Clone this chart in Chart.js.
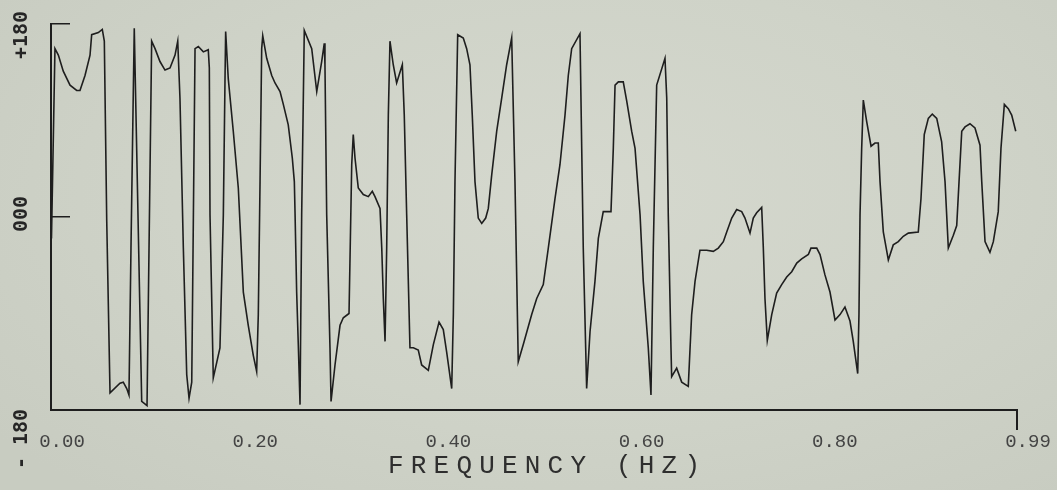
<!DOCTYPE html>
<html>
<head>
<meta charset="utf-8">
<title>Phase spectrum</title>
<script src="https://cdn.jsdelivr.net/npm/chart.js@4.4.1/dist/chart.umd.min.js"></script>
<style>
  html, body { margin: 0; padding: 0; }
  body {
    width: 1057px; height: 490px; overflow: hidden;
    background: radial-gradient(ellipse 70% 80% at 55% 40%, #d5d8ce 0%, #cfd3c8 55%, #c8ccc1 100%);
  }
  canvas { display: block; }
</style>
</head>
<body>
<canvas id="phase" width="1057" height="490"></canvas>
<script>
// Frequency (Hz) of each plotted sample
const freqHz = [
  0.0005, 0.0041, 0.0076, 0.0127, 0.0197, 0.0266, 0.0300, 0.0352, 0.0404, 0.0421,
  0.0490, 0.0531, 0.0552, 0.0577, 0.0611, 0.0714, 0.0748, 0.0784, 0.0807, 0.0828,
  0.0852, 0.0862, 0.0939, 0.0994, 0.1042, 0.1077, 0.1128, 0.1180, 0.1232, 0.1284,
  0.1312, 0.1335, 0.1370, 0.1405, 0.1429, 0.1457, 0.1491, 0.1525, 0.1577, 0.1628,
  0.1639, 0.1646, 0.1680, 0.1749, 0.1784, 0.1801, 0.1808, 0.1835, 0.1887, 0.1939,
  0.1991, 0.2042, 0.2094, 0.2129, 0.2146, 0.2164, 0.2181, 0.2192, 0.2233, 0.2285,
  0.2319, 0.2371, 0.2405, 0.2456, 0.2498, 0.2519, 0.2526, 0.2543, 0.2560, 0.2578,
  0.2595, 0.2622, 0.2699, 0.2751, 0.2802, 0.2829, 0.2836, 0.2854, 0.2888, 0.2899,
  0.2940, 0.2992, 0.3026, 0.3085, 0.3113, 0.3129, 0.3147, 0.3181, 0.3233, 0.3285,
  0.3326, 0.3354, 0.3406, 0.3424, 0.3440, 0.3458, 0.3475, 0.3492, 0.3509, 0.3543,
  0.3578, 0.3637, 0.3657, 0.3682, 0.3716, 0.3751, 0.3802, 0.3837, 0.3906, 0.3958,
  0.4017, 0.4061, 0.4096, 0.4148, 0.4165, 0.4182, 0.4210, 0.4268, 0.4303, 0.4337,
  0.4361, 0.4389, 0.4423, 0.4459, 0.4500, 0.4527, 0.4562, 0.4614, 0.4666, 0.4717,
  0.4769, 0.4803, 0.4837, 0.4889, 0.4976, 0.5028, 0.5096, 0.5148, 0.5217, 0.5269,
  0.5321, 0.5355, 0.5390, 0.5476, 0.5494, 0.5510, 0.5535, 0.5545, 0.5580, 0.5631,
  0.5666, 0.5717, 0.5797, 0.5821, 0.5839, 0.5873, 0.5924, 0.5960, 0.6011, 0.6046,
  0.6098, 0.6131, 0.6183, 0.6211, 0.6235, 0.6270, 0.6356, 0.6374, 0.6390, 0.6418,
  0.6425, 0.6477, 0.6529, 0.6597, 0.6632, 0.6667, 0.6718, 0.6788, 0.6856, 0.6908,
  0.6960, 0.6995, 0.7047, 0.7098, 0.7150, 0.7184, 0.7236, 0.7270, 0.7305, 0.7357,
  0.7374, 0.7391, 0.7415, 0.7461, 0.7512, 0.7564, 0.7616, 0.7668, 0.7720, 0.7771,
  0.7840, 0.7867, 0.7927, 0.7961, 0.8012, 0.8064, 0.8116, 0.8168, 0.8219, 0.8271,
  0.8305, 0.8351, 0.8364, 0.8375, 0.8392, 0.8409, 0.8444, 0.8489, 0.8530, 0.8564,
  0.8582, 0.8616, 0.8668, 0.8719, 0.8771, 0.8823, 0.8875, 0.8978, 0.9006, 0.9040,
  0.9082, 0.9123, 0.9169, 0.9220, 0.9255, 0.9289, 0.9341, 0.9376, 0.9400, 0.9428,
  0.9462, 0.9513, 0.9565, 0.9617, 0.9635, 0.9669, 0.9720, 0.9755, 0.9806, 0.9834,
  0.9869, 0.9910, 0.9945, 0.9987
];

// Phase angle (degrees) at each frequency, wrapped to -180..+180
const phaseDeg = [
   -20,  157,  151,  136,  123,  118,  118,  132,  151,  170,
   172,  175,  164,   -4, -164, -155, -154, -160, -166,  -29,
   117,  176, -172, -176,  164,  157,  145,  137,  139,  151,
   164,  111,  -29, -147, -169, -154,  157,  159,  154,  156,
   139,    2, -150, -122,    2,  126,  173,  129,   80,   27,
   -70, -101, -129, -144,  -91,   33,  157,  169,  148,  132,
   125,  117,  105,   86,   55,   33,    5,  -70, -119, -175,
     2,  174,  157,  117,  145,  162,  142,    2, -122, -172,
  -138, -101,  -94,  -90,   49,   77,   55,   27,   21,   19,
    24,   19,    8,  -29,  -76, -116,  -29,   95,  164,  142,
   125,  142,   95,    2, -122, -122, -124, -138, -143, -119,
   -98, -105, -126, -160,  -91,   33,  170,  167,  157,  142,
    95,   33,   -1,   -6,   -1,    8,   39,   80,  111,  142,
   167,   33, -135, -119,  -91,  -76,  -63,  -29,   17,   49,
    95,  132,  157,  171,   64,  -29, -122, -160, -107,  -60,
   -20,    5,    5,   64,  123,  126,  126,  108,   80,   64,
     2,  -60, -122, -166,  -29,  123,  148,  111,    2, -122,
  -149, -141, -154, -158,  -91,  -60,  -31,  -31,  -32,  -29,
   -23,  -14,   -1,    7,    5,   -1,  -15,   -1,    4,    9,
   -29,  -76, -115,  -91,  -71,  -63,  -56,  -51,  -43,  -39,
   -35,  -29,  -29,  -35,  -54,  -70,  -96,  -91,  -84,  -97,
  -116, -146,  -91,    2,   64,  109,   89,   66,   69,   69,
    33,  -14,  -40,  -26,  -23,  -18,  -15,  -14,   17,   77,
    92,   96,   92,   70,   33,  -29,  -17,   -8,   33,   80,
    84,   87,   83,   67,   33,  -23,  -33,  -23,    5,   64,
   105,  101,   95,   80
];

// Axis ticks and labels
const xTickValues = [0, 0.2, 0.4, 0.6, 0.8, 1.0];
const xTickLabels = ['0.00', '0.20', '0.40', '0.60', '0.80', '0.99'];
const yTickValues = [-180, 0, 180];
const yTickLabels = ['- 180', '000', '+180'];
const xAxisTitle = 'FREQUENCY (HZ)';

const INK = '#1e1e1e';

// Rotated phase labels and the spaced-out frequency caption
const axisText = {
  id: 'axisText',
  afterDraw(chart) {
    const { ctx, scales: { x, y } } = chart;
    const yShift = [29, -3, 11];
    ctx.save();
    ctx.fillStyle = '#262626';
    ctx.font = 'bold 20px "DejaVu Sans Mono"';
    ctx.textAlign = 'center';
    ctx.textBaseline = 'alphabetic';
    yTickValues.forEach((v, i) => {
      ctx.save();
      ctx.translate(27, y.getPixelForValue(v) + yShift[i]);
      ctx.rotate(-Math.PI / 2);
      ctx.fillText(yTickLabels[i], 0, 0);
      ctx.restore();
    });

    ctx.fillStyle = '#2e2e2e';
    ctx.font = '26px "Liberation Mono"';
    ctx.textAlign = 'left';
    const span = 312;
    const plain = ctx.measureText(xAxisTitle).width;
    const gap = (span - plain) / (xAxisTitle.length - 1);
    ctx.letterSpacing = gap + 'px';
    const cx = (x.left + x.right) / 2 + 10;
    ctx.fillText(xAxisTitle, cx - span / 2, 473);
    ctx.restore();
  }
};

new Chart(document.getElementById('phase'), {
  type: 'line',
  data: {
    datasets: [{
      data: freqHz.map((f, i) => ({ x: f, y: phaseDeg[i] })),
      borderColor: INK,
      borderWidth: 1.6,
      pointRadius: 0,
      tension: 0,
      fill: false
    }]
  },
  options: {
    responsive: false,
    animation: false,
    events: [],
    layout: { padding: { top: 24, right: 40, left: 0, bottom: 0 } },
    plugins: { legend: { display: false }, tooltip: { enabled: false } },
    scales: {
      x: {
        type: 'linear',
        min: 0,
        max: 1,
        afterBuildTicks: s => { s.ticks = xTickValues.map(v => ({ value: v })); },
        afterFit: s => { s.height = 80; },
        ticks: {
          callback: (v, i) => xTickLabels[i],
          autoSkip: false,
          maxRotation: 0,
          labelOffset: 11,
          padding: 1,
          color: '#444',
          font: { family: 'Liberation Mono', size: 19 }
        },
        grid: {
          drawOnChartArea: false,
          tickLength: 20,
          lineWidth: 2,
          color: c => c.index === xTickValues.length - 1 ? INK : 'rgba(0,0,0,0)'
        },
        border: { display: true, color: INK, width: 2 }
      },
      y: {
        type: 'linear',
        min: -180,
        max: 180,
        afterBuildTicks: s => { s.ticks = yTickValues.map(v => ({ value: v })); },
        afterFit: s => { s.width = 51; },
        ticks: { display: false },
        grid: {
          drawOnChartArea: false,
          tickLength: -19,
          lineWidth: 1.5,
          color: INK
        },
        border: { display: true, color: INK, width: 2 }
      }
    }
  },
  plugins: [axisText]
});
</script>
</body>
</html>
